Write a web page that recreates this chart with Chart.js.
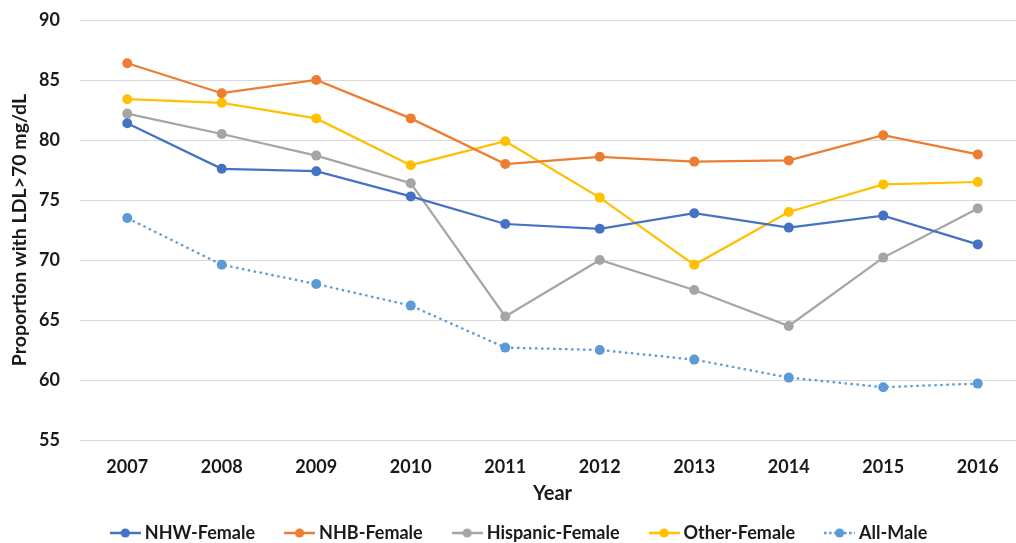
<!DOCTYPE html>
<html>
<head>
<meta charset="utf-8">
<script src="https://cdn.jsdelivr.net/npm/chart.js@4/dist/chart.umd.min.js"></script>
<style>
html,body{margin:0;padding:0;overflow:hidden;background:#fff;width:1016px;height:543px;}
#wrap{position:absolute;left:0;top:0;width:1030px;height:552px;}
</style>
</head>
<body>
<div id="wrap"><canvas id="c" width="1030" height="552"></canvas></div>
<script>
const years = ['2007','2008','2009','2010','2011','2012','2013','2014','2015','2016'];
const nhwFemale      = [81.4, 77.6, 77.4, 75.3, 73.0, 72.6, 73.9, 72.7, 73.7, 71.3];
const nhbFemale      = [86.4, 83.9, 85.0, 81.8, 78.0, 78.6, 78.2, 78.3, 80.4, 78.8];
const hispanicFemale = [82.2, 80.5, 78.7, 76.4, 65.3, 70.0, 67.5, 64.5, 70.2, 74.3];
const otherFemale    = [83.4, 83.1, 81.8, 77.9, 79.9, 75.2, 69.6, 74.0, 76.3, 76.5];
const allMale        = [73.5, 69.6, 68.0, 66.2, 62.7, 62.5, 61.7, 60.2, 59.4, 59.7];
const seriesNames = ['NHW-Female','NHB-Female','Hispanic-Female','Other-Female','All-Male'];
const yMin = 55, yMax = 90, yStep = 5;

const colors = ['#4472C4','#ED7D31','#A5A5A5','#FFC000','#5B9BD5'];
const values = [nhwFemale, nhbFemale, hispanicFemale, otherFemale, allMale];
const FONT = 'Lato, "Open Sans", sans-serif';
const TXT = '#1a1a1a';

function legendMarker(color, dotted){
  const cv = document.createElement('canvas');
  cv.width = 31; cv.height = 12;
  const g = cv.getContext('2d');
  g.strokeStyle = color; g.lineWidth = 2.5;
  if (dotted) g.setLineDash([2.5,2.5]);
  g.beginPath(); g.moveTo(0,6); g.lineTo(31,6); g.stroke();
  g.setLineDash([]);
  g.fillStyle = color;
  g.beginPath(); g.arc(15.5,6,4.6,0,Math.PI*2); g.fill();
  return cv;
}
const markers = colors.map((c,i)=>legendMarker(c, i===4));

const datasets = values.map((v,i)=>({
  label: seriesNames[i],
  data: v,
  borderColor: colors[i],
  backgroundColor: colors[i],
  borderWidth: 2.25,
  borderDash: i===4 ? [2.5,3.5] : [],
  pointRadius: 5,
  pointHoverRadius: 5,
  pointBorderWidth: 0,
  pointBackgroundColor: colors[i],
  tension: 0,
  fill: false
}));

new Chart(document.getElementById('c'), {
  type: 'line',
  data: { labels: years, datasets: datasets },
  options: {
    responsive: false,
    animation: false,
    layout: { padding: { top: 20, left: 12, right: 0, bottom: 0 } },
    plugins: {
      tooltip: { enabled: false },
      legend: {
        position: 'bottom',
        labels: {
          usePointStyle: true,
          pointStyleWidth: 21,
          padding: 34,
          color: TXT,
          font: { family: FONT, size: 18, weight: 'bold' },
          generateLabels: (chart) => chart.data.datasets.map((d,i)=>({
            text: d.label,
            pointStyle: markers[i],
            fillStyle: colors[i],
            strokeStyle: colors[i],
            lineWidth: 0,
            hidden: false,
            datasetIndex: i,
            fontColor: TXT
          }))
        }
      }
    },
    scales: {
      x: {
        offset: true,
        grid: { display: false, drawTicks: false },
        border: { display: false },
        ticks: { color: TXT, padding: 16, font: { family: FONT, size: 18, weight: 'bold' }, maxRotation: 0 },
        title: { display: true, text: 'Year', color: TXT, padding: { top: 0, bottom: -16 }, font: { family: FONT, size: 20, weight: 'bold' } },
        afterFit: (s) => { s.height = 50; s.paddingLeft = 0; s.paddingRight = 0; }
      },
      y: {
        min: yMin, max: yMax,
        grid: { color: '#D9D9D9', lineWidth: 1, drawTicks: false },
        border: { display: false },
        ticks: { stepSize: yStep, color: TXT, padding: 20, font: { family: FONT, size: 18, weight: 'bold' } },
        title: { display: true, text: 'Proportion with LDL>70 mg/dL', color: TXT, padding: { top: -4, bottom: 0 }, font: { family: FONT, size: 19.5, weight: 'bold' } },
        afterFit: (s) => { s.width = 68; s.paddingTop = 0; s.paddingBottom = 0; }
      }
    }
  }
});
</script>
</body>
</html>
